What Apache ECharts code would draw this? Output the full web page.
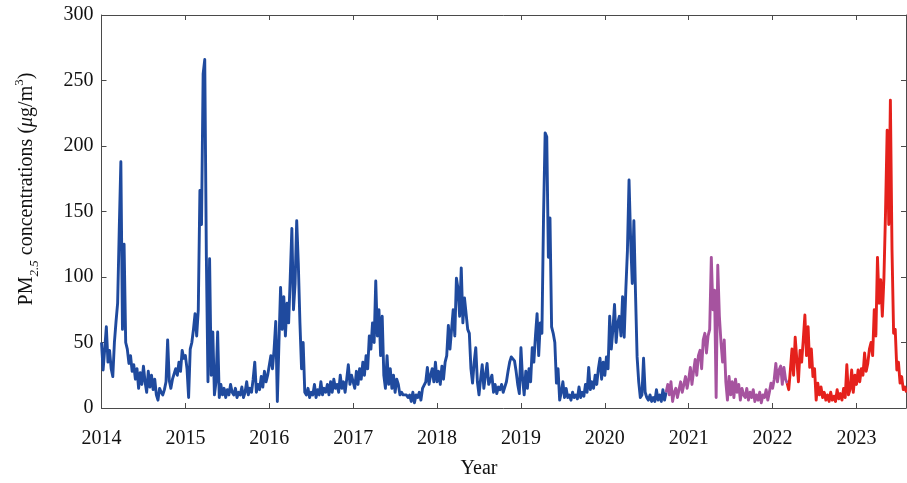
<!DOCTYPE html>
<html>
<head>
<meta charset="utf-8">
<script src="https://cdn.jsdelivr.net/npm/echarts@6/dist/echarts.min.js"></script>
<style>
  html, body { margin: 0; padding: 0; background: #fff; }
  #chart { width: 907px; height: 483px; }
</style>
</head>
<body>
<div id="chart"></div>
<script>
// Weekly PM2.5 concentrations (µg/m³), one array per year, week 0 = 1 January
const pm2014 = [50,29,45,62,35,44,30,24,50,66,80,136,188,60,125,50,45,34,40,28,33,22,30,15,27,18,32,20,12,28,16,25,14,22,10,6,15,12,10,14,20,52,21,15,22,21,30,25,35,28,44,38];
const pm2015 = [40,30,8,45,50,60,72,55,75,166,140,255,266,115,20,114,25,58,10,20,58,8,18,10,15,8,14,10,18,12,10,15,8,12,10,16,8,12,20,10,15,12,22,35,12,18,14,24,16,28,20,25];
const pm2016 = [25,40,30,45,66,5,50,92,60,85,55,80,65,100,137,75,95,143,110,65,30,50,12,10,15,8,12,10,18,8,14,10,20,10,15,12,18,10,20,12,22,15,18,12,25,15,20,12,22,33,18,25];
const pm2017 = [20,15,28,18,30,22,35,25,40,30,55,45,65,50,97,55,75,40,70,25,15,40,18,30,15,25,12,22,18,10,12,10,10,10,8,10,5,12,4,10,8,12,6,15,15,20,31,18,25,30,20,35];
const pm2018 = [20,28,18,32,22,35,40,63,45,60,75,55,99,91,70,107,65,84,85,60,57,30,19,35,46,20,10,22,33,15,25,34,18,21,25,12,18,11,16,14,18,12,16,20,28,35,39,40,36,28,18,11];
const pm2019 = [46,22,10,28,15,30,20,46,35,55,72,40,65,57,146,210,207,115,145,62,57,50,19,30,6,12,20,8,15,8,10,6,12,8,10,7,16,8,12,9,18,12,31,14,20,15,25,18,30,38,22,35];
const pm2020 = [25,39,30,70,45,60,79,50,65,70,55,85,54,90,120,174,128,95,143,88,39,20,8,10,38,12,8,6,10,5,8,5,14,6,10,5,14,6,12,18,10,20,5,12,15,8,14,20,12,18,24,15];
const pm2021 = [22,31,18,28,37,25,40,44,30,52,57,42,55,60,115,75,90,8,109,70,50,35,52,20,6,24,10,20,8,22,12,18,6,15,10,8,15,6,12,8,14,5,10,6,12,4,10,8,14,6,12,19];
const pm2022 = [15,22,34,20,29,32,18,31,22,19,14,29,45,25,54,37,20,44,35,52,71,40,62,31,45,24,30,6,19,10,16,8,12,6,10,5,12,6,9,5,14,7,11,6,15,8,33,10,14,29,12,25];
const pm2023 = [18,29,20,30,25,42,28,34,45,50,40,75,55,115,80,98,70,99,150,212,140,235,121,57,60,29,35,19,24,14,16,12];

const years = [2014, 2015, 2016, 2017, 2018, 2019, 2020, 2021, 2022, 2023];
const yearly = [pm2014, pm2015, pm2016, pm2017, pm2018, pm2019, pm2020, pm2021, pm2022, pm2023];

// Period boundaries (year, week) between the three data segments
const segment1End = [2020, 38];
const segment2End = [2022, 9];

const yTicks = [0, 50, 100, 150, 200, 250, 300];
const xTickYears = years;

const xMin = 2014, xMax = 2023.59;
const WEEKS = 52;

// Build [time, value] pairs and split them into the three periods
const blue = [], purple = [], red = [];
const t1 = segment1End[0] + segment1End[1] / WEEKS;
const t2 = segment2End[0] + segment2End[1] / WEEKS;
years.forEach((yr, k) => {
  yearly[k].forEach((v, w) => {
    const t = yr + w / WEEKS;
    const p = [t, v];
    if (t <= t1) blue.push(p);
    if (t >= t1 && t <= t2) purple.push(p);
    if (t >= t2) red.push(p);
  });
});

const serif = 'Liberation Serif, Times New Roman, serif';
const axisColor = '#4a4a4a';

const chart = echarts.init(document.getElementById('chart'), null, { renderer: 'canvas' });

const lineSeries = (data, color) => ({
  type: 'line',
  data: data,
  xAxisIndex: 0,
  yAxisIndex: 0,
  showSymbol: false,
  symbol: 'none',
  smooth: false,
  sampling: null,
  clip: true,
  lineStyle: { color: color, width: 2.9, join: 'round' },
  emphasis: { disabled: true },
  animation: false
});

chart.setOption({
  backgroundColor: '#ffffff',
  animation: false,
  grid: { left: 101.5, right: 1, top: 15, bottom: 75, containLabel: false },
  xAxis: [
    {
      type: 'value', min: xMin, max: xMax, interval: 1,
      position: 'bottom',
      axisLine: { show: true, onZero: false, lineStyle: { color: axisColor, width: 1 } },
      axisTick: { show: true, inside: true, length: 5, lineStyle: { color: axisColor } },
      splitLine: { show: false },
      axisLabel: {
        show: true, margin: 21, color: '#111', fontSize: 20, fontFamily: serif,
        showMaxLabel: false,
        formatter: v => (xTickYears.indexOf(Math.round(v)) >= 0 && Math.abs(v - Math.round(v)) < 1e-6) ? String(Math.round(v)) : ''
      }
    },
    {
      type: 'value', min: xMin, max: xMax, interval: 1,
      position: 'top',
      axisLine: { show: true, onZero: false, lineStyle: { color: axisColor, width: 1 } },
      axisTick: { show: true, inside: true, length: 5, lineStyle: { color: axisColor } },
      splitLine: { show: false },
      axisLabel: { show: false }
    }
  ],
  yAxis: [
    {
      type: 'value', min: yTicks[0], max: yTicks[yTicks.length - 1], interval: 50,
      position: 'left',
      axisLine: { show: true, onZero: false, lineStyle: { color: axisColor, width: 1 } },
      axisTick: { show: true, inside: true, length: 5, lineStyle: { color: axisColor } },
      splitLine: { show: false },
      axisLabel: { show: true, margin: 8, color: '#111', fontSize: 20, fontFamily: serif }
    },
    {
      type: 'value', min: yTicks[0], max: yTicks[yTicks.length - 1], interval: 50,
      position: 'right',
      axisLine: { show: true, onZero: false, lineStyle: { color: axisColor, width: 1 } },
      axisTick: { show: true, inside: true, length: 5, lineStyle: { color: axisColor } },
      splitLine: { show: false },
      axisLabel: { show: false }
    }
  ],
  graphic: [
    {
      type: 'text',
      x: 27, y: 189,
      rotation: Math.PI / 2,
      silent: true,
      style: {
        text: '{n|PM}{sub|2.5}{n| concentrations (}{mu|μ}{n|g/m}{sup|3}{n|)}',
        align: 'center',
        verticalAlign: 'middle',
        fill: '#111',
        rich: {
          n: { fontSize: 20, fontFamily: serif, lineHeight: 28, verticalAlign: 'middle', fill: '#111' },
          mu: { fontSize: 20, fontFamily: serif, fontStyle: 'italic', lineHeight: 28, verticalAlign: 'middle', fill: '#111' },
          sub: { fontSize: 13, fontFamily: serif, fontStyle: 'italic', lineHeight: 13, verticalAlign: 'bottom', fill: '#111' },
          sup: { fontSize: 13, fontFamily: serif, lineHeight: 13, verticalAlign: 'top', fill: '#111' }
        }
      }
    },
    {
      type: 'text',
      x: 479, y: 469,
      silent: true,
      style: {
        text: 'Year',
        align: 'center',
        verticalAlign: 'middle',
        fontSize: 20,
        fontFamily: serif,
        fill: '#111'
      }
    }
  ],
  series: [
    lineSeries(blue, '#1f4a9e'),
    lineSeries(purple, '#a6539f'),
    lineSeries(red, '#e5211c')
  ]
});
</script>
</body>
</html>
